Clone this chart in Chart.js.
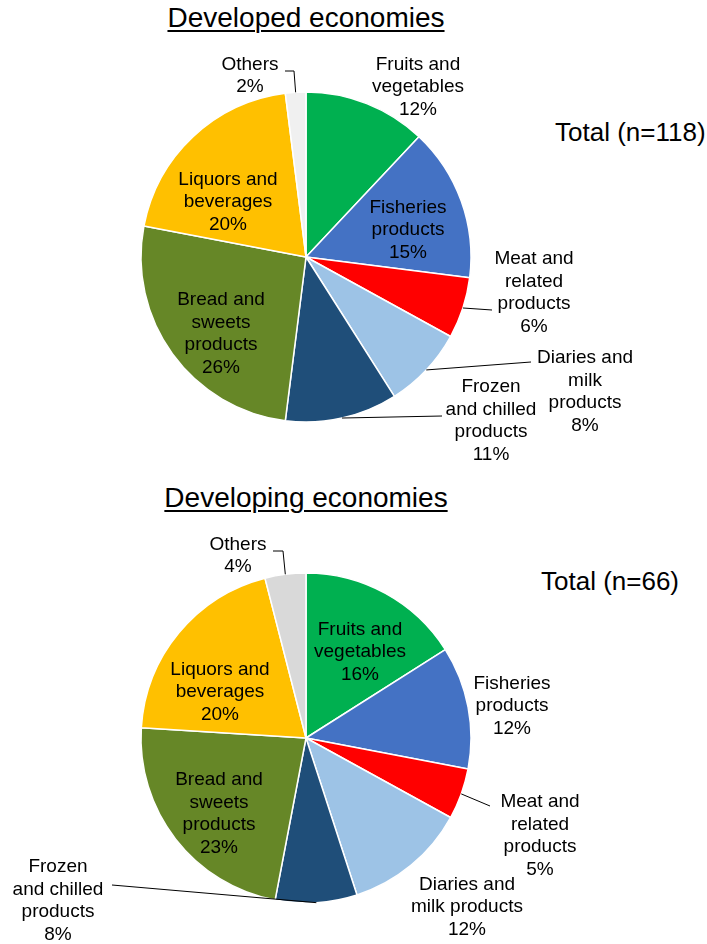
<!DOCTYPE html>
<html><head><meta charset="utf-8">
<script src="https://cdn.jsdelivr.net/npm/chart.js@4"></script>
<style>
body{margin:0;width:707px;height:944px;background:#fff;position:relative;overflow:hidden;font-family:"Liberation Sans",Arial,sans-serif;}
.box{position:absolute;left:0;width:707px;height:472px;}
.title{position:absolute;left:0;width:612px;text-align:center;font-size:28px;line-height:32px;text-decoration:underline;text-decoration-thickness:2px;text-underline-offset:3px;color:#000;}
.total{position:absolute;font-size:26px;line-height:30px;color:#000;white-space:nowrap;}
</style></head>
<body>
<div class="title" style="top:2px;">Developed economies</div>
<div class="total" style="left:555px;top:117px;">Total (n=118)</div>
<div class="box" style="top:0;"><canvas id="c1" width="707" height="472"></canvas></div>
<div class="title" style="top:482px;">Developing economies</div>
<div class="total" style="left:541px;top:566px;">Total (n=66)</div>
<div class="box" style="top:472px;"><canvas id="c2" width="707" height="472"></canvas></div>
<script>
// ---- data ----
const categories = ["Fruits and vegetables","Fisheries products","Meat and related products","Diaries and milk products","Frozen and chilled products","Bread and sweets products","Liquors and beverages","Others"];
const developedShare = [12, 15, 6, 8, 11, 26, 20, 2];
const developingShare = [16, 12, 5, 12, 8, 23, 20, 4];
const developedTotal = 118;
const developingTotal = 66;

// ---- styling / layout ----
const sliceColors = ["#00B050","#4472C4","#FF0000","#9DC3E6","#1F4E79","#668727","#FFC000"];
const othersColorDeveloped = "#F0F0F0";
const othersColorDeveloping = "#D9D9D9";

// label layout: wrapped name lines, label block centre relative to pie centre, optional leader points
const layoutDeveloped = [
  {lines:["Fruits and","vegetables"], dx:112, dy:-170},
  {lines:["Fisheries","products"], dx:102, dy:-27},
  {lines:["Meat and","related","products"], dx:228, dy:36, leader:[[186,53]]},
  {lines:["Diaries and","milk","products"], dx:279, dy:135, leader:[[225,105]]},
  {lines:["Frozen","and chilled","products"], dx:185, dy:164, leader:[[136,159]]},
  {lines:["Bread and","sweets","products"], dx:-85, dy:77},
  {lines:["Liquors and","beverages"], dx:-78, dy:-55},
  {lines:["Others"], dx:-56, dy:-181, leader:[[-12,-186],[-21,-186]]}
];
const layoutDeveloping = [
  {lines:["Fruits and","vegetables"], dx:54, dy:-86},
  {lines:["Fisheries","products"], dx:206, dy:-32},
  {lines:["Meat and","related","products"], dx:234, dy:98, leader:[[184,68]]},
  {lines:["Diaries and","milk products"], dx:161, dy:169},
  {lines:["Frozen","and chilled","products"], dx:-248, dy:163, leader:[[-194,147]]},
  {lines:["Bread and","sweets","products"], dx:-87, dy:76},
  {lines:["Liquors and","beverages"], dx:-86, dy:-46},
  {lines:["Others"], dx:-68, dy:-182, leader:[[-23,-187],[-33,-187]]}
];

const labelPlugin = {
  id:'pieLabels',
  afterDatasetsDraw(chart, args, opts){
    const ctx = chart.ctx;
    const meta = chart.getDatasetMeta(0);
    const vals = chart.data.datasets[0].data;
    const lay = opts.layout;
    ctx.save();
    meta.data.forEach((arc, i) => {
      const L = lay[i];
      const p = arc.getProps(['x','y','startAngle','endAngle','outerRadius'], true);
      const cx = p.x, cy = p.y;
      if (L.leader) {
        const mid = (p.startAngle + p.endAngle)/2;
        ctx.beginPath();
        ctx.moveTo(cx + p.outerRadius*Math.cos(mid), cy + p.outerRadius*Math.sin(mid));
        L.leader.forEach(pt => ctx.lineTo(cx + pt[0], cy + pt[1]));
        ctx.strokeStyle = '#000';
        ctx.lineWidth = 1;
        ctx.stroke();
      }
      const lines = L.lines.concat([vals[i] + '%']);
      const lh = 22.5;
      ctx.fillStyle = '#000';
      ctx.font = '19px "Liberation Sans", Arial, sans-serif';
      ctx.textAlign = 'center';
      ctx.textBaseline = 'middle';
      const y0 = cy + L.dy - (lines.length-1)*lh/2;
      lines.forEach((t, k) => ctx.fillText(t, cx + L.dx, y0 + k*lh));
    });
    ctx.restore();
  }
};

function makePie(id, values, othersColor, layout, padTop){
  return new Chart(document.getElementById(id), {
    type:'pie',
    data:{
      labels: categories,
      datasets:[{
        data: values,
        backgroundColor: sliceColors.concat([othersColor]),
        borderColor:'#FFFFFF',
        borderWidth:1.5,
        radius:165
      }]
    },
    options:{
      responsive:false,
      animation:false,
      layout:{padding:{left:0,right:95,top:padTop,bottom:0}},
      plugins:{
        legend:{display:false},
        tooltip:{enabled:false},
        title:{display:false},
        pieLabels:{layout: layout}
      }
    },
    plugins:[labelPlugin]
  });
}
makePie('c1', developedShare, othersColorDeveloped, layoutDeveloped, 42);
makePie('c2', developingShare, othersColorDeveloping, layoutDeveloping, 60);
</script>
</body></html>
